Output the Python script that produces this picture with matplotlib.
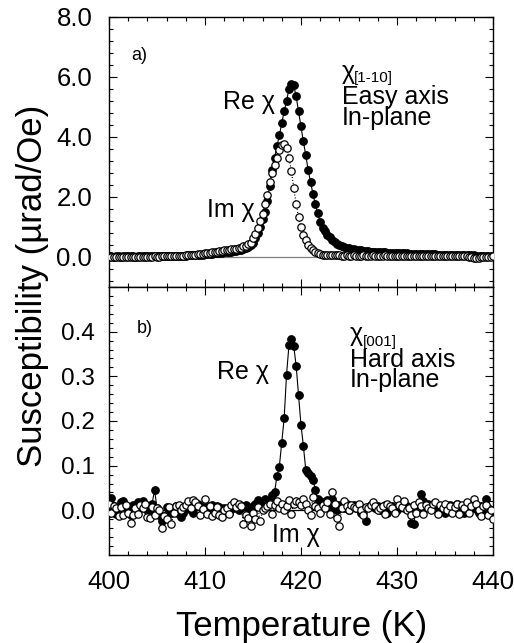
import matplotlib
matplotlib.use('Agg')
import matplotlib.pyplot as plt
import numpy as np
from matplotlib.ticker import MultipleLocator

plt.rcParams['font.family'] = ['Liberation Sans', 'DejaVu Sans']

# temperature grid (K), 0.25 K steps from 400 to 440
t_start, t_end = 400.0, 440.0

# a) chi[1-10], easy axis, in-plane (urad/Oe)
re_easy = [
    0.02, 0.02, 0.01, 0.02, 0.02, 0.01, 0.02, 0.02,
    0.02, 0.02, 0.02, 0.01, 0.02, 0.02, 0.02, 0.02,
    0.02, 0.02, 0.03, 0.02, 0.02, 0.03, 0.02, 0.03,
    0.03, 0.03, 0.03, 0.03, 0.04, 0.03, 0.04, 0.04,
    0.04, 0.05, 0.05, 0.05, 0.06, 0.06, 0.07, 0.08,
    0.09, 0.10, 0.10, 0.11, 0.12, 0.12, 0.13, 0.14,
    0.15, 0.16, 0.17, 0.18, 0.19, 0.20, 0.22, 0.24,
    0.27, 0.30, 0.34, 0.40, 0.48, 0.62, 0.80, 1.00,
    1.25, 1.50, 1.87, 2.38, 2.90, 3.30, 3.70, 4.05,
    4.45, 4.85, 5.20, 5.60, 5.78, 5.72, 5.35, 4.85,
    4.35, 3.85, 3.40, 2.90, 2.50, 2.10, 1.75, 1.45,
    1.15, 0.98, 0.85, 0.74, 0.65, 0.57, 0.50, 0.44,
    0.40, 0.36, 0.33, 0.31, 0.29, 0.27, 0.25, 0.24,
    0.23, 0.22, 0.21, 0.20, 0.19, 0.18, 0.17, 0.17,
    0.16, 0.16, 0.15, 0.15, 0.14, 0.14, 0.14, 0.13,
    0.13, 0.13, 0.12, 0.12, 0.12, 0.11, 0.11, 0.11,
    0.11, 0.10, 0.10, 0.10, 0.10, 0.09, 0.09, 0.09,
    0.09, 0.08, 0.08, 0.08, 0.08, 0.07, 0.07, 0.07,
    0.07, 0.07, 0.06, 0.06, 0.06, 0.06, 0.05, 0.05,
    0.05, 0.04, 0.04, 0.03, 0.03, 0.02, 0.02, 0.02,
    0.02]
im_easy = [
    0.01, 0.00, 0.01, 0.01, 0.00, 0.01, 0.01, 0.00,
    0.01, 0.01, 0.00, 0.01, 0.01, 0.01, 0.00, 0.01,
    0.01, 0.01, 0.01, 0.02, 0.01, 0.01, 0.02, 0.02,
    0.02, 0.02, 0.02, 0.03, 0.03, 0.03, 0.04, 0.04,
    0.05, 0.05, 0.06, 0.07, 0.08, 0.09, 0.10, 0.11,
    0.12, 0.13, 0.14, 0.15, 0.17, 0.18, 0.19, 0.20,
    0.22, 0.23, 0.24, 0.25, 0.26, 0.28, 0.29, 0.31,
    0.35, 0.38, 0.42, 0.48, 0.62, 0.78, 0.98, 1.20,
    1.42, 1.75, 2.08, 2.50, 2.80, 3.05, 3.30, 3.55,
    3.72, 3.75, 3.62, 3.30, 2.88, 2.30, 1.78, 1.32,
    1.00, 0.74, 0.55, 0.40, 0.30, 0.22, 0.16, 0.12,
    0.10, 0.08, 0.07, 0.06, 0.06, 0.05, 0.05, 0.05,
    0.05, 0.04, 0.04, 0.05, 0.04, 0.04, 0.05, 0.04,
    0.04, 0.04, 0.05, 0.04, 0.04, 0.04, 0.05, 0.04,
    0.04, 0.04, 0.04, 0.05, 0.04, 0.04, 0.04, 0.04,
    0.04, 0.03, 0.04, 0.04, 0.04, 0.03, 0.04, 0.04,
    0.04, 0.04, 0.03, 0.04, 0.03, 0.04, 0.03, 0.03,
    0.03, 0.04, 0.03, 0.03, 0.03, 0.04, 0.03, 0.03,
    0.03, 0.03, 0.03, 0.02, 0.03, 0.02, 0.01, 0.00,
    -0.02, -0.04, -0.03, -0.01, 0.00, 0.01, 0.01, 0.01,
    0.02]

# b) chi[001], hard axis, in-plane (urad/Oe)
re_hard = [
    -0.005, 0.027, 0.010, -0.008, 0.005, 0.018, 0.020, 0.008,
    0.000, -0.010, 0.012, -0.005, 0.018, 0.005, 0.020, 0.010,
    0.000, -0.008, 0.015, 0.046, 0.005, -0.010, -0.025, -0.012,
    0.008, 0.000, -0.005, 0.003, 0.010, -0.008, -0.015, -0.005,
    0.005, 0.010, 0.000, -0.005, 0.008, 0.015, 0.010, 0.003,
    0.008, -0.003, 0.010, 0.012, 0.005, 0.010, 0.008, 0.003,
    0.006, 0.000, -0.005, 0.010, 0.005, 0.012, 0.000, 0.010,
    0.008, 0.012, 0.006, 0.000, 0.010, 0.015, 0.022, 0.018,
    0.012, 0.025, 0.018, 0.020, 0.035, 0.040, 0.077, 0.098,
    0.151, 0.206, 0.304, 0.369, 0.384, 0.367, 0.324, 0.258,
    0.192, 0.145, 0.091, 0.084, 0.076, 0.068, 0.046, 0.025,
    0.020, 0.018, 0.015, 0.022, 0.010, 0.025, 0.005, 0.000,
    0.012, 0.008, 0.005, 0.015, 0.000, 0.008, 0.012, 0.005,
    0.010, -0.005, 0.003, -0.025, 0.008, 0.012, 0.015, 0.005,
    0.010, 0.000, 0.008, 0.012, -0.005, 0.005, 0.010, 0.003,
    0.000, 0.008, 0.012, 0.005, 0.010, 0.000, -0.028, -0.030,
    0.000, 0.012, 0.037, 0.020, 0.008, 0.015, 0.010, 0.005,
    0.012, 0.005, 0.010, 0.000, -0.005, 0.008, 0.012, 0.005,
    0.010, 0.015, 0.008, 0.000, -0.005, 0.010, 0.005, 0.012,
    0.008, 0.003, -0.005, 0.010, 0.000, 0.025, 0.005, -0.005,
    0.000]
im_hard = [
    0.015, -0.005, 0.010, 0.005, -0.012, 0.008, -0.010, 0.012,
    -0.005, -0.028, -0.010, 0.005, -0.008, 0.012, 0.005, 0.015,
    -0.015, -0.018, 0.008, -0.010, 0.005, 0.000, -0.040, -0.012,
    -0.020, 0.008, -0.030, -0.005, 0.010, 0.012, 0.000, 0.008,
    0.012, 0.020, 0.005, 0.022, 0.018, 0.010, -0.010, 0.002,
    0.025, -0.008, 0.010, -0.012, -0.005, 0.008, -0.010, -0.015,
    0.000, 0.005, -0.008, 0.012, 0.018, 0.008, 0.015, 0.010,
    -0.030, -0.010, -0.018, -0.035, -0.005, -0.020, 0.008, -0.025,
    0.000, 0.005, 0.010, 0.015, -0.008, 0.012, 0.020, 0.005,
    0.015, 0.000, 0.010, 0.022, -0.008, 0.015, 0.020, 0.018,
    0.012, 0.025, 0.015, 0.000, -0.010, 0.030, 0.010, 0.005,
    -0.005, 0.012, 0.005, 0.018, -0.008, 0.040, 0.015, -0.018,
    -0.035, 0.005, 0.020, 0.010, 0.000, 0.012, 0.008, 0.005,
    0.015, 0.000, -0.010, 0.008, 0.005, 0.012, 0.018, 0.010,
    0.000, 0.005, 0.010, -0.008, 0.015, 0.010, 0.005, -0.005,
    0.025, 0.012, 0.008, 0.020, 0.000, 0.005, -0.010, 0.012,
    -0.005, 0.018, 0.010, -0.008, 0.012, 0.005, 0.000, 0.015,
    0.018, -0.008, 0.012, 0.005, 0.015, 0.000, 0.010, -0.005,
    0.008, 0.015, -0.008, 0.012, 0.005, 0.018, -0.005, 0.010,
    0.025, 0.015, 0.000, -0.012, 0.010, 0.012, -0.010, 0.000,
    -0.020]


def temps(vals):
    return np.linspace(t_start, t_end, len(vals))


def style_axis(ax, ymajor, yminor, ylabelsize, ypad):
    ax.set_xlim(t_start, t_end)
    ax.xaxis.set_major_locator(MultipleLocator(10))
    ax.xaxis.set_minor_locator(MultipleLocator(2))
    ax.yaxis.set_major_locator(MultipleLocator(ymajor))
    ax.yaxis.set_minor_locator(MultipleLocator(yminor))
    ax.tick_params(which='both', direction='in', top=True, right=True,
                   width=0.8)
    ax.tick_params(which='major', length=6)
    ax.tick_params(which='minor', length=3)
    ax.tick_params(axis='y', pad=ypad, labelsize=ylabelsize)
    ax.tick_params(axis='x', pad=11, labelsize=18.5)
    for s in ax.spines.values():
        s.set_linewidth(1.0)


def plot_pair(ax, re, im, zero_color):
    ax.axhline(0, color=zero_color, lw=0.9, zorder=1)
    ax.plot(temps(re), re, '-o', color='black', lw=0.8, ms=5.3,
            mfc='black', mec='black', zorder=2)
    ax.plot(temps(im), im, ':o', color='black', lw=0.8, ms=5.3,
            mfc='white', mec='black', mew=0.9, zorder=3)


fig = plt.figure(figsize=(5.14, 6.43), dpi=100)
ax1 = fig.add_axes([0.212, 0.5537, 0.747, 0.4199])
ax2 = fig.add_axes([0.212, 0.1369, 0.747, 0.4168])

txt = dict(fontsize=18, va='baseline')
sub = dict(fontsize=11, va='baseline')

# panel a
plot_pair(ax1, re_easy, im_easy, '#808080')
style_axis(ax1, 2.0, 0.4, 18.5, 12)
ax1.set_ylim(-1.0, 8.0)
ax1.yaxis.set_major_formatter(lambda v, p: '' if v < 0 else f'{v:.1f}')
ax1.tick_params(labelbottom=False)
ax1.text(402.35, 6.57, 'a)', fontsize=13, va='baseline')
ax1.text(424.3, 5.93, 'χ', **txt)
ax1.text(425.5, 5.83, '[1-10]', **sub)
ax1.text(424.3, 5.1, 'Easy axis', **txt)
ax1.text(424.3, 4.4, 'In-plane', **txt)
ax1.text(411.9, 4.93, 'Re χ', **txt)
ax1.text(410.2, 1.33, 'Im χ', **txt)

# panel b
plot_pair(ax2, re_hard, im_hard, 'black')
style_axis(ax2, 0.1, 0.02, 17.5, 10)
ax2.set_ylim(-0.1, 0.5)
ax2.yaxis.set_major_formatter(
    lambda v, p: '' if (v < -0.01 or v > 0.45) else f'{abs(v):.1f}')
ax2.text(402.9, 0.398, 'b)', fontsize=13, va='baseline')
ax2.text(425.1, 0.378, 'χ', **txt)
ax2.text(426.4, 0.367, '[001]', **sub)
ax2.text(425.1, 0.32, 'Hard axis', **txt)
ax2.text(425.1, 0.275, 'In-plane', **txt)
ax2.text(411.25, 0.293, 'Re χ', **txt)
ax2.text(416.95, -0.072, 'Im χ', **txt)

fig.text(0.064, 0.555, 'Susceptibility (µrad/Oe)', rotation=90,
         fontsize=25, ha='center', va='center')
fig.text(0.586, 0.011, 'Temperature (K)', fontsize=25,
         ha='center', va='baseline')

fig.savefig('out.png', dpi=100)
